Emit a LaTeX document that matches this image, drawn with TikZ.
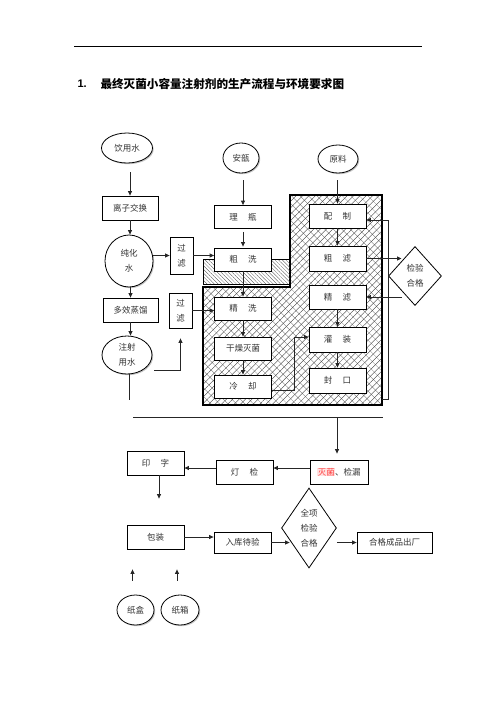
\documentclass[tikz,border=0pt]{standalone}
\usepackage{fontspec}
\setmainfont{Liberation Sans}
\newfontfamily\cjk{Noto Sans CJK SC}
\usetikzlibrary{shapes.geometric,arrows.meta,patterns.meta,shadows}
\begin{document}
\begin{tikzpicture}[x=1pt,y=-1pt,
  lbl/.style={font=\cjk\fontsize{8.5}{15}\selectfont, text=black!80, align=center},
  box/.style={lbl, draw, fill=white, line width=0.8pt, inner sep=0pt, minimum width=57pt, minimum height=24pt},
  oval/.style={lbl, ellipse, draw, fill=white, line width=0.8pt, inner sep=0pt,
    drop shadow={shadow xshift=1.2pt, shadow yshift=-1.2pt, fill=black!45}},
  dia/.style={lbl, diamond, draw, fill=white, line width=0.8pt, inner sep=0pt},
  conn/.style={draw=black!85, line width=0.8pt},
  arr/.style={conn, -{Triangle[length=4.5pt,width=4pt]}}
]
\useasboundingbox (0,0) rectangle (496,702);

% header
\coordinate (h1) at (74,46); \coordinate (h2) at (422,46);
\draw[line width=0.8pt] (h1) -- (h2);
\node[anchor=west, font=\bfseries\fontsize{11}{13}\selectfont] (tnum) at (74,84) {1.};
\node[anchor=west, font=\cjk\bfseries\fontsize{11.6}{13}\selectfont] (title) at (97,84) {最终灭菌小容量注射剂的生产流程与环境要求图};

% hatched clean areas
\path[pattern={Lines[angle=-45,distance=6pt,line width=0.3pt]}, pattern color=black!55]
  (290,195) -- (382,195) -- (382,405) -- (203,405) -- (203,287) -- (290,287) -- cycle;
\draw[line width=1.1pt, pattern={Lines[angle=45,distance=4.5pt,line width=0.35pt]}, pattern color=black!80]
  (290,195) -- (382,195) -- (382,405) -- (203,405) -- (203,287) -- (290,287) -- cycle;
\draw[line width=0.8pt, pattern={Lines[angle=-45,distance=2.6pt,line width=0.3pt]}, pattern color=black!70]
  (203,259) rectangle (290,284);

% left column
\node[oval, minimum width=51pt, minimum height=30pt] (yys) at (127,148) {饮用水};
\node[box, minimum width=56pt] (lzjh) at (130,208) {离子交换};
\node[oval, minimum width=48pt, minimum height=52pt] (chs) at (129,261) {纯化\\水};
\node[box, minimum width=23pt, minimum height=37pt] (gl1) at (181.5,255.5) {过\\滤};
\node[box, minimum width=55pt] (dxzl) at (130.5,310) {多效蒸馏};
\node[oval, minimum width=50pt, minimum height=38pt] (zsys) at (127,355) {注射\\用水};
\node[box, minimum width=23pt, minimum height=35pt] (gl2) at (180.5,310.5) {过\\滤};

% middle column
\node[oval, minimum width=36pt, minimum height=30pt] (ab) at (241,158) {安瓿};
\node[box, minimum height=23pt] (lp) at (243,217) {理\hspace{1.2em}瓶};
\node[box, minimum height=23pt] (cx) at (243,259.5) {粗\hspace{1.2em}洗};
\node[box, minimum height=23pt] (jx) at (243,308.5) {精\hspace{1.2em}洗};
\node[box, minimum height=23pt] (gzmj) at (243,348.5) {干燥灭菌};
\node[box, minimum height=23pt] (lq) at (243,386.5) {冷\hspace{1.2em}却};

% right column
\node[oval, minimum width=40pt, minimum height=28pt] (yl) at (338,159) {原料};
\node[box] (pz) at (337.5,216) {配\hspace{1.2em}制};
\node[box, minimum height=25pt] (cl) at (337.5,258.5) {粗\hspace{1.2em}滤};
\node[box] (jl) at (337.5,297) {精\hspace{1.2em}滤};
\node[box, minimum height=25pt] (gz) at (337.5,339.5) {灌\hspace{1.2em}装};
\node[box, minimum height=25pt] (fk) at (337.5,380.5) {封\hspace{1.2em}口};
\node[dia, minimum width=53pt, minimum height=59pt] (jyhg) at (415,276) {检验\\合格};

% lower part
\node[box, minimum width=58pt] (mj) at (339,472) {\setlength\fboxsep{0.3pt}\colorbox{pink!45}{\textcolor{red!75}{灭菌}}、检漏};
\node[box] (dj) at (244.5,472) {灯\hspace{1.2em}检};
\node[box] (yz) at (155.5,463) {印\hspace{1.2em}字};
\node[box] (bz) at (155.5,537) {包装};
\node[box, minimum height=21pt] (rk) at (242.5,542.5) {入库待验};
\node[dia, minimum width=48pt, minimum height=80pt] (qx) at (309,528) {全项\\检验\\合格};
\node[box, minimum width=75pt, minimum height=21pt] (hgcp) at (394.5,542.5) {合格成品出厂};
\node[oval, minimum width=37pt, minimum height=30pt] (zh) at (135.5,610) {纸盒};
\node[oval, minimum width=38pt, minimum height=30pt] (zx) at (180,610) {纸箱};

% connectors: left column
\draw[arr, shorten <=9pt] (lzjh.north |- yys.south) -- (lzjh.north);
\draw[arr] (lzjh.south) -- (lzjh.south |- chs.north);
\draw[arr] (gl1.west -| chs.east) -- (gl1.west);
\draw[arr] (gl1.east) -- (gl1.east -| cx.west);
\draw[arr] (dxzl.north |- chs.south) -- (dxzl.north);
\draw[arr] (dxzl.south) -- (dxzl.south |- zsys.north);
\draw[arr] (gl2.east) -- (gl2.east -| jx.west);
\coordinate (zend) at (129,400);
\draw[conn] (zend |- zsys.south) -- (zend);
\coordinate (zj) at (154,370);
\draw[arr, shorten >=10pt] (zj) -- (zj -| gl2.south) -- (gl2.south);

% middle column
\draw[arr, shorten <=7pt] (lp.north |- ab.south) -- (lp.north);
\draw[arr, shorten <=3pt, shorten >=1pt] (lp) -- (cx);
\draw[arr] (cx) -- (jx);
\draw[arr] (jx) -- (gzmj);
\draw[arr] (gzmj) -- (lq);
\draw[arr] ([yshift=-3.5pt]lq.east) -- ++(22,0) |- ([yshift=2.5pt]gz.west);

% right column
\draw[arr, shorten <=7pt] (pz.north |- yl.south) -- (pz.north);
\draw[arr] (pz) -- (cl);
\draw[arr] (jl) -- (gz);
\draw[arr] (gz) -- (fk);
\draw[arr] (cl.east) -- (cl.east -| jyhg.north west);
\draw[arr] (jl.east -| jyhg.south west) -- (jl.east);
\coordinate (fbs) at (382,399);
\draw[arr] (fbs) -- ++(6,0) |- ([yshift=-4pt]pz.east);

% separator and lower flow
\coordinate (L1) at (133,417); \coordinate (L2) at (383,417);
\draw[conn] (L1) -- (L2);
\draw[arr, shorten >=6pt] ([xshift=-2pt]mj.north |- L1) -- ([xshift=-2pt]mj.north);
\draw[arr] ([yshift=4pt]mj.west) -- ([yshift=4pt]dj.east);
\draw[arr] ([yshift=4pt]dj.west) -- ([yshift=4pt]dj.west -| yz.east);
\draw[arr, shorten >=26pt] ([xshift=3.5pt]yz.south) -- ([xshift=3.5pt]yz.south |- bz.north);
\draw[arr] (bz.east) -- (bz.east -| rk.west);
\draw[arr] (rk.east) -- ([xshift=8.5pt]rk.east -| qx.west);
\draw[arr] (hgcp.west -| qx.east) -- (hgcp.west);
\draw[arr, shorten <=14pt, shorten >=20pt] ([xshift=-3pt]zh.north) -- ([xshift=-3pt]zh.north |- bz.south);
\draw[arr, shorten <=14pt, shorten >=20pt] ([xshift=-3pt]zx.north) -- ([xshift=-3pt]zx.north |- bz.south);
\end{tikzpicture}
\end{document}
